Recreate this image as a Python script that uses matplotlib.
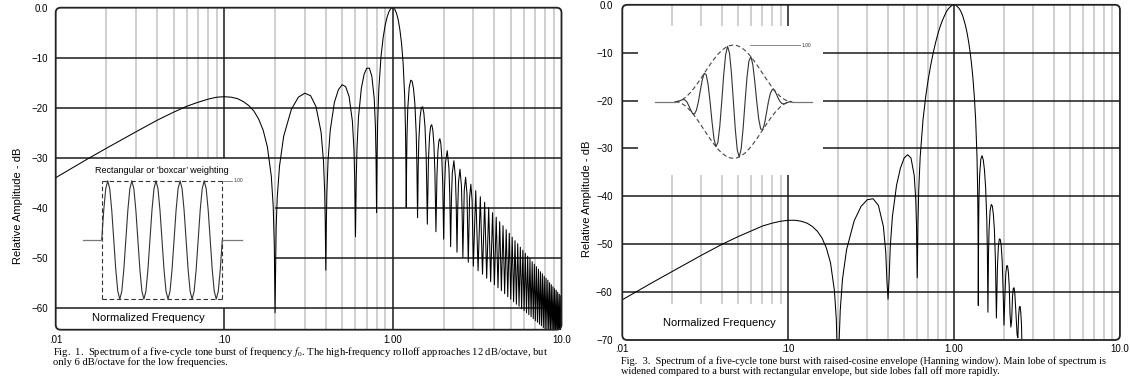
import numpy as np
import matplotlib
matplotlib.use("Agg")
import matplotlib.pyplot as plt
from matplotlib.patches import FancyBboxPatch

plt.rcParams['font.family'] = ['Liberation Sans', 'DejaVu Sans']
plt.rcParams['mathtext.fontset'] = 'stix'

# ---------------- data: Fig. 1 (rectangular five-cycle burst) ----------------
rect_freq = [0.010, 0.015, 0.020, 0.030, 0.040, 0.050, 0.060, 0.070, 0.080, 0.090,
             0.100, 0.110, 0.120, 0.130, 0.140, 0.150, 0.160, 0.170, 0.180, 0.190,
             0.195, 0.198, 0.200,
             0.203, 0.206, 0.2125, 0.225, 0.250, 0.275, 0.300, 0.325, 0.350, 0.375,
             0.3875, 0.394, 0.397, 0.400,
             0.403, 0.406, 0.4125, 0.425, 0.450, 0.475, 0.500, 0.525, 0.550, 0.575,
             0.5875, 0.594, 0.597, 0.600,
             0.603, 0.606, 0.6125, 0.625, 0.650, 0.675, 0.700, 0.725, 0.750, 0.775,
             0.7875, 0.794, 0.797, 0.800,
             0.803, 0.806, 0.8125, 0.825, 0.850, 0.875, 0.900, 0.925, 0.950, 0.975,
             1.000, 1.025, 1.050, 1.075, 1.100, 1.125, 1.150, 1.175, 1.1875, 1.194,
             1.197, 1.200,
             1.206, 1.2125, 1.225, 1.250, 1.275, 1.300, 1.325, 1.350, 1.375, 1.3875,
             1.394, 1.400,
             1.406, 1.4125, 1.425, 1.450, 1.475, 1.500, 1.525, 1.550, 1.575, 1.5875, 1.600,
             1.6125, 1.625, 1.650, 1.675, 1.700, 1.725, 1.750, 1.775, 1.7875, 1.800,
             1.8125, 1.825, 1.850, 1.875, 1.900, 1.925, 1.950, 1.975, 1.9875, 2.000,
             2.025, 2.050, 2.100, 2.150, 2.175, 2.200,
             2.225, 2.250, 2.300, 2.350, 2.375, 2.400,
             2.425, 2.450, 2.500, 2.550, 2.575, 2.600,
             2.650, 2.700, 2.750, 2.800,
             2.850, 2.900, 2.950, 3.000]
rect_db = [-34.0, -30.5, -28.1, -24.8, -22.5, -20.9, -19.7, -18.9, -18.3, -17.9,
           -17.8, -17.9, -18.2, -18.8, -19.6, -20.7, -22.3, -24.5, -27.8, -33.7,
           -39.7, -47.7, -61.0,
           -44.0, -38.0, -31.7, -25.7, -20.3, -17.9, -17.1, -17.6, -19.8, -24.9,
           -30.7, -37.0, -43.0, -52.5,
           -42.9, -36.9, -30.5, -24.5, -18.9, -16.4, -15.4, -15.8, -17.8, -22.7,
           -28.4, -34.6, -40.6, -45.8,
           -40.5, -34.4, -28.0, -21.9, -16.1, -13.3, -12.1, -12.1, -13.7, -18.2,
           -23.7, -29.8, -35.7, -41.0,
           -35.5, -29.3, -22.7, -16.3, -9.8, -6.0, -3.5, -1.8, -0.7, -0.1,
           0.0, -0.3, -1.1, -2.4, -4.4, -7.1, -11.1, -17.8, -24.4, -31.0,
           -37.2, -40.0,
           -31.4, -25.5, -20.2, -15.9, -14.5, -14.7, -16.2, -19.2, -25.2, -31.4,
           -37.9, -42.0,
           -38.2, -32.1, -26.5, -21.8, -20.0, -19.8, -21.0, -23.8, -29.6, -35.7, -43.3,
           -36.2, -30.5, -25.6, -23.7, -23.4, -24.5, -27.2, -32.9, -38.9, -44.8,
           -39.4, -33.6, -28.6, -26.6, -26.2, -27.2, -29.9, -35.4, -41.5, -46.3,
           -36.0, -31.0, -28.6, -32.1, -37.6, -47.8,
           -38.1, -33.1, -30.6, -34.0, -39.5, -48.9,
           -40.0, -34.9, -32.3, -35.7, -41.2, -49.9,
           -36.5, -33.9, -37.2, -50.9,
           -38.0, -35.3, -38.6, -51.7]
rect_peak_freq = [3.1, 3.3, 3.5, 3.7, 3.9, 4.1, 4.3, 4.5, 4.7, 4.9, 5.1, 5.3, 5.5, 5.7,
                  5.9, 6.1, 6.3, 6.5, 6.7, 6.9, 7.1, 7.3, 7.5, 7.7, 7.9, 8.1, 8.3, 8.5,
                  8.7, 8.9, 9.1, 9.3, 9.5, 9.7, 9.9]
rect_peak_db = [-36.6, -37.8, -38.9, -40.0, -41.0, -41.9, -42.8, -43.6, -44.4, -45.1,
                -45.9, -46.6, -47.2, -47.9, -48.5, -49.1, -49.7, -50.2, -50.8, -51.3,
                -51.8, -52.3, -52.8, -53.2, -53.7, -54.1, -54.5, -55.0, -55.4, -55.8,
                -56.2, -56.5, -56.9, -57.3, -57.6]
rect_null_freq = [3.2, 3.4, 3.6, 3.8, 4.0, 4.2, 4.4, 4.6, 4.8, 5.0, 5.2, 5.4, 5.6, 5.8,
                  6.0, 6.2, 6.4, 6.6, 6.8, 7.0, 7.2, 7.4, 7.6, 7.8, 8.0, 8.2, 8.4, 8.6,
                  8.8, 9.0, 9.2, 9.4, 9.6, 9.8, 10.0]
rect_null_db = [-52.6, -53.3, -54.1, -54.8, -55.4, -56.0, -56.6, -57.2, -57.8, -58.3,
                -58.8, -59.3, -59.7, -60.2, -60.6, -61.0, -61.4, -61.8, -62.2, -62.6,
                -62.9, -63.3, -63.6, -64.0, -64.3, -64.7, -65.0, -65.3, -65.6, -65.9,
                -66.2, -66.5, -66.8, -67.0, -67.3]

# ---------------- data: Fig. 3 (Hanning five-cycle burst) ----------------
hann_freq = [0.010, 0.015, 0.020, 0.030, 0.040, 0.050, 0.060, 0.070, 0.080, 0.090,
             0.100, 0.110, 0.120, 0.130, 0.140, 0.150, 0.160, 0.170, 0.180, 0.190,
             0.195, 0.198, 0.200,
             0.203, 0.206, 0.2125, 0.225, 0.250, 0.275, 0.300, 0.325, 0.350, 0.375,
             0.3875, 0.394, 0.400,
             0.406, 0.4125, 0.425, 0.450, 0.475, 0.500, 0.525, 0.550, 0.575, 0.5875,
             0.594, 0.597, 0.600,
             0.603, 0.606, 0.6125, 0.625, 0.650, 0.675, 0.700, 0.725, 0.750, 0.775,
             0.800, 0.825, 0.850, 0.875, 0.900, 0.925, 0.950, 0.975, 1.000, 1.025,
             1.050, 1.075, 1.100, 1.125, 1.150, 1.175, 1.200, 1.225, 1.250, 1.275,
             1.300, 1.325, 1.350, 1.375, 1.3875, 1.394, 1.397, 1.400,
             1.406, 1.4125, 1.425, 1.450, 1.475, 1.500, 1.525, 1.550, 1.575, 1.5875, 1.600,
             1.6125, 1.625, 1.650, 1.675, 1.700, 1.725, 1.750, 1.775, 1.7875, 1.800,
             1.825, 1.850, 1.875, 1.900, 1.925, 1.950, 1.975, 2.000,
             2.025, 2.050, 2.075, 2.100, 2.125, 2.150, 2.175, 2.200,
             2.225, 2.250, 2.275, 2.300, 2.325, 2.350, 2.400,
             2.425, 2.450, 2.475, 2.500, 2.525, 2.550, 2.575, 2.600]
hann_db = [-61.6, -58.1, -55.7, -52.3, -50.0, -48.4, -47.2, -46.2, -45.6, -45.2,
           -45.0, -45.0, -45.2, -45.6, -46.3, -47.3, -48.7, -50.8, -53.9, -59.7,
           -65.6, -73.6, -75.0,
           -69.9, -63.8, -57.3, -51.1, -45.1, -42.1, -40.7, -40.5, -41.9, -46.3,
           -51.7, -57.8, -61.5,
           -57.1, -50.5, -44.2, -37.7, -34.1, -32.0, -31.3, -32.0, -35.6, -40.6,
           -46.4, -52.2, -57.0,
           -51.7, -45.5, -38.6, -31.7, -24.0, -19.1, -15.4, -12.4, -9.9, -7.8,
           -6.0, -4.5, -3.3, -2.3, -1.4, -0.8, -0.4, -0.1, 0.0, -0.1,
           -0.4, -0.8, -1.4, -2.2, -3.3, -4.5, -6.0, -7.8, -9.9, -12.4,
           -15.4, -19.2, -24.1, -31.8, -38.7, -45.6, -51.7, -62.8,
           -46.7, -40.8, -35.8, -32.2, -31.5, -32.4, -34.5, -38.2, -44.8, -51.3, -64.2,
           -52.5, -47.1, -42.9, -41.7, -42.0, -43.7, -46.9, -53.1, -59.5, -65.4,
           -54.9, -50.4, -48.9, -49.0, -50.4, -53.4, -59.5, -66.9,
           -60.9, -56.2, -54.5, -54.5, -55.8, -58.7, -64.6, -67.3,
           -65.9, -61.0, -59.2, -59.1, -60.3, -63.1, -69.0,
           -69.5, -65.0, -63.2, -63.0, -64.2, -66.9, -73.0, -80.0]

# ---------------- inset waveforms (read from the sketches) ----------------
boxcar_cycle = [0.0, 0.5, 0.866, 1.0, 0.866, 0.5, 0.0, -0.5, -0.866, -1.0, -0.866, -0.5]
hann_burst = [0, .0014, .0095, .0245, .0374, .0335,
              0, -.0642, -.1433, -.2061, -.2165, -.1483,
              0, .1980, .3877, .5000, .4783, .3020,
              0, -.3517, -.6495, -.7939, -.7227, -.4358,
              0, .4665, .8286, .9755, .8565, .4986,
              0, -.4986, -.8565, -.9755, -.8286, -.4665,
              0, .4358, .7227, .7939, .6495, .3517,
              0, -.3020, -.4783, -.5000, -.3877, -.1980,
              0, .1483, .2165, .2061, .1433, .0642,
              0, -.0335, -.0374, -.0245, -.0095, -.0014,
              0]
hann_envelope = [0.0, .011, .043, .095, .165, .250, .345, .448, .552, .655, .750,
                 .835, .905, .957, .989, 1.0, .989, .957, .905, .835, .750, .655,
                 .552, .448, .345, .250, .165, .095, .043, .011, 0.0]

x_ticks = [0.01, 0.1, 1.0, 10.0]
x_ticklabels = ['.01', '.10', '1.00', '10.0']
left_yticks = [0, -10, -20, -30, -40, -50, -60]
left_yticklabels = ['0.0', '\u221210', '\u221220', '\u221230', '\u221240', '\u221250', '\u221260']
right_yticks = [0, -10, -20, -30, -40, -50, -60, -70]
right_yticklabels = ['0.0', '\u221210', '\u221220', '\u221230', '\u221240', '\u221250', '\u221260', '\u221270']

minor_low = [0.02, 0.03, 0.04, 0.05, 0.06, 0.07, 0.08, 0.09]
minor_high = [0.2, 0.3, 0.4, 0.5, 0.6, 0.7, 0.8, 0.9, 2, 3, 4, 5, 6, 7, 8, 9]

GRAY = '#c4c4c4'
DARK = '#1a1a1a'
GLW = 1.1

fig = plt.figure(figsize=(11.3, 3.85), dpi=100)
axL = fig.add_axes([0.0493, 0.1436, 0.4476, 0.8364])
axR = fig.add_axes([0.5507, 0.1169, 0.4404, 0.8706])


def frame(ax, bw, bh):
    for s in ax.spines.values():
        s.set_visible(False)
    r = 5.0 / bw
    p = FancyBboxPatch((0, 0), 1, 1, boxstyle="round,pad=0,rounding_size=%f" % r,
                       mutation_aspect=bw / bh, transform=ax.transAxes, fill=False,
                       lw=1.3, ec='#222222', clip_on=False, zorder=5)
    ax.add_patch(p)


# ---------------- left panel ----------------
ax = axL
ax.set_xscale('log')
ax.set_xlim(0.01, 10)
ax.set_ylim(-64.4, 0)
ax.vlines(minor_low, -30, 0, color=GRAY, lw=GLW, zorder=1)
ax.vlines(minor_high, -64.4, 0, color=GRAY, lw=GLW, zorder=1)
ax.vlines([0.1], -30, 0, color=DARK, lw=GLW, zorder=2)
ax.vlines([0.1], -64.4, -60, color=DARK, lw=GLW, zorder=2)
ax.vlines([1.0], -64.4, 0, color=DARK, lw=GLW, zorder=2)
ax.hlines([-10, -20, -30, -60], 0.01, 10, color=DARK, lw=GLW, zorder=2)
ax.hlines([-40, -50], 0.2, 10, color=DARK, lw=GLW, zorder=2)
lf = np.concatenate([rect_freq, np.column_stack([rect_peak_freq, rect_null_freq]).ravel()])
ld = np.concatenate([rect_db, np.column_stack([rect_peak_db, rect_null_db]).ravel()])
ax.plot(lf, ld, color='black', lw=0.75, zorder=3)
ax.set_xticks(x_ticks)
ax.set_xticklabels(x_ticklabels)
ax.set_yticks(left_yticks)
ax.set_yticklabels(left_yticklabels)
ax.minorticks_off()
ax.tick_params(axis='both', length=0, labelsize=7)
ax.tick_params(axis='y', pad=5.5)
ax.tick_params(axis='x', pad=3.5)
ax.text(0.184, 0.037, 'Normalized Frequency', transform=ax.transAxes, fontsize=8,
        ha='center', va='center')
frame(ax, 505.8, 322)

# ---------------- right panel ----------------
ax = axR
ax.set_xscale('log')
ax.set_xlim(0.01, 10)
ax.set_ylim(-70, 0)
ax.vlines(minor_low, -4.5, 0, color=GRAY, lw=GLW, zorder=1)
ax.vlines(minor_low, -62.5, -35.6, color=GRAY, lw=GLW, zorder=1)
ax.vlines(minor_high, -70, 0, color=GRAY, lw=GLW, zorder=1)
ax.vlines([0.1], -4.5, 0, color=DARK, lw=GLW, zorder=2)
ax.vlines([0.1], -70, -35.6, color=DARK, lw=GLW, zorder=2)
ax.vlines([1.0], -70, 0, color=DARK, lw=GLW, zorder=2)
ax.hlines([-10, -20, -30], 0.01, 0.0125, color=DARK, lw=GLW, zorder=2)
ax.hlines([-10, -20, -30], 0.162, 10, color=DARK, lw=GLW, zorder=2)
ax.hlines([-40, -50, -60], 0.01, 10, color=DARK, lw=GLW, zorder=2)
ax.plot(hann_freq, hann_db, color='black', lw=0.75, zorder=3)
ax.set_xticks(x_ticks)
ax.set_xticklabels(x_ticklabels)
ax.set_yticks(right_yticks)
ax.set_yticklabels(right_yticklabels)
ax.minorticks_off()
ax.tick_params(axis='both', length=0, labelsize=7)
ax.tick_params(axis='y', pad=7)
ax.tick_params(axis='x', pad=3)
ax.text(0.195, 0.050, 'Normalized Frequency', transform=ax.transAxes, fontsize=8,
        ha='center', va='center')
frame(ax, 497.7, 335.2)

# y labels
fig.text(0.0159, 0.465, 'Relative Amplitude - dB', rotation=90, fontsize=8,
         ha='center', va='center')
fig.text(0.5198, 0.483, 'Relative Amplitude - dB', rotation=90, fontsize=8,
         ha='center', va='center')

# ---------------- insets ----------------
t61 = np.arange(61) / 12.0
t31 = np.arange(31) / 6.0
boxcar_wave = np.append(np.tile(boxcar_cycle, 5), 0.0)

insL = fig.add_axes([0.06867, 0.19221, 0.14938, 0.36883])
insL.set_xlim(-1, 6)
insL.set_ylim(-1.2, 1.2)
insL.axis('off')
dash = (0, (4, 2.5))
insL.plot(t61, boxcar_wave, color='#333333', lw=0.8)
insL.plot([0, 5], [1, 1], color='#333333', lw=0.8, linestyle=dash)
insL.plot([0, 5], [-1, -1], color='#333333', lw=0.8, linestyle=dash)
insL.plot([0, 0], [-1, 1], color='#333333', lw=0.8, linestyle=dash)
insL.plot([5, 5], [-1, 1], color='#333333', lw=0.8, linestyle=dash)
insL.plot([-0.79, 0], [0, 0], color='#777777', lw=0.9)
insL.plot([5, 5.8], [0, 0], color='#777777', lw=0.9)
insL.plot([5.03, 5.4], [1, 1], color='#555555', lw=0.5)
insL.text(5.45, 1.0, '1.00', fontsize=3.5, ha='left', va='center', color='#333333')
insL.text(2.49, 1.18, "Rectangular or \u2019boxcar\u2019 weighting", fontsize=6.5,
          ha='center', va='center')

insR = fig.add_axes([0.57673, 0.55922, 0.14460, 0.35325])
insR.set_xlim(-1, 6)
insR.set_ylim(-1.2, 1.2)
insR.axis('off')
insR.plot(t61, hann_burst, color='#333333', lw=0.8)
insR.plot(t31, hann_envelope, color='#444444', lw=0.8, linestyle=dash)
insR.plot(t31, [-v for v in hann_envelope], color='#444444', lw=0.8, linestyle=dash)
insR.plot([-0.86, 0], [0, 0], color='#777777', lw=0.9)
insR.plot([5, 5.86], [0, 0], color='#777777', lw=0.9)
insR.plot([3.21, 5.36], [1, 1], color='#555555', lw=0.5)
insR.text(5.42, 1.0, '1.00', fontsize=3.5, ha='left', va='center', color='#333333')

# ---------------- captions ----------------
serif = ['Liberation Serif', 'DejaVu Serif']
fig.text(0.0469, 0.0857, 'Fig.  1.  Spectrum of a five-cycle tone burst of frequency $f_0$. '
         'The high-frequency rolloff approaches 12 dB/octave, but',
         fontsize=7.55, family=serif, ha='left', va='center')
fig.text(0.0469, 0.0597, 'only 6 dB/octave for the low frequencies.',
         fontsize=7.55, family=serif, ha='left', va='center')
fig.text(0.5496, 0.0623, 'Fig.  3.  Spectrum of a five-cycle tone burst with raised-cosine '
         'envelope (Hanning window). Main lobe of spectrum is',
         fontsize=7.4, family=serif, ha='left', va='center')
fig.text(0.5496, 0.0364, 'widened compared to a burst with rectangular envelope, but side '
         'lobes fall off more rapidly.',
         fontsize=7.4, family=serif, ha='left', va='center')

fig.savefig('out.png', dpi=100)
